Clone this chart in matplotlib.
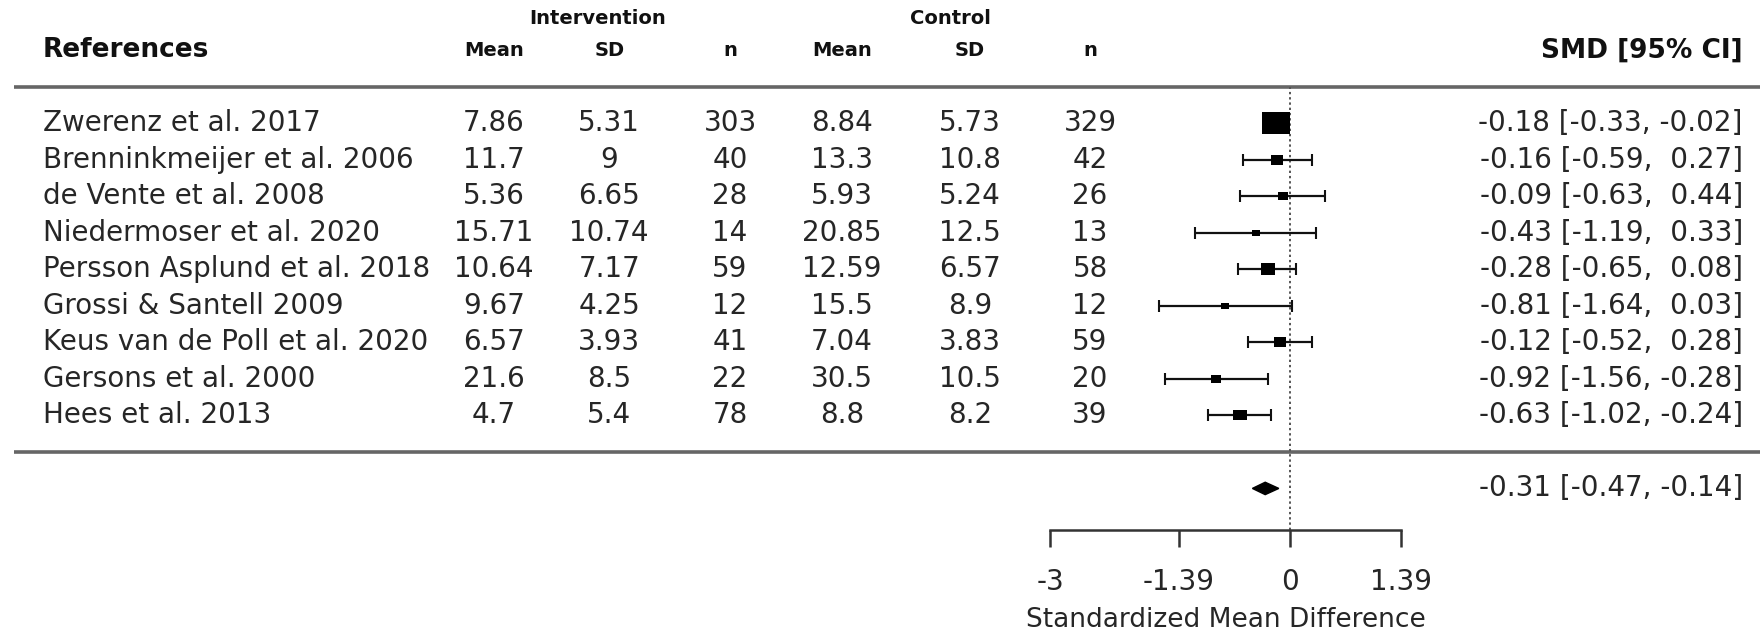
import matplotlib.pyplot as plt
import numpy as np
from matplotlib.patches import Polygon

# study table
studies = ["Zwerenz et al. 2017", "Brenninkmeijer et al. 2006", "de Vente et al. 2008",
           "Niedermoser et al. 2020", "Persson Asplund et al. 2018", "Grossi & Santell 2009",
           "Keus van de Poll et al. 2020", "Gersons et al. 2000", "Hees et al. 2013"]
int_mean = ["7.86", "11.7", "5.36", "15.71", "10.64", "9.67", "6.57", "21.6", "4.7"]
int_sd = ["5.31", "9", "6.65", "10.74", "7.17", "4.25", "3.93", "8.5", "5.4"]
int_n = ["303", "40", "28", "14", "59", "12", "41", "22", "78"]
ctl_mean = ["8.84", "13.3", "5.93", "20.85", "12.59", "15.5", "7.04", "30.5", "8.8"]
ctl_sd = ["5.73", "10.8", "5.24", "12.5", "6.57", "8.9", "3.83", "10.5", "8.2"]
ctl_n = ["329", "42", "26", "13", "58", "12", "59", "20", "39"]
smd = [-0.18, -0.16, -0.09, -0.43, -0.28, -0.81, -0.12, -0.92, -0.63]
ci_lo = [-0.33, -0.59, -0.63, -1.19, -0.65, -1.64, -0.52, -1.56, -1.02]
ci_hi = [-0.02, 0.27, 0.44, 0.33, 0.08, 0.03, 0.28, -0.28, -0.24]
pooled = [-0.31, -0.47, -0.14]   # estimate, lower, upper
axis_ticks = [-3, -1.39, 0, 1.39]
axis_labels = ["-3", "-1.39", "0", "1.39"]

plt.rcParams['font.family'] = ['DejaVu Sans']
txt = '#262626'
fs = 20

fig = plt.figure(figsize=(17.6, 6.37), dpi=100)
ax = fig.add_axes([0, 0, 1, 1])
ax.set_xlim(-16.125, 5.875)
ax.set_ylim(-5.07, 12.38)

k = len(studies)
rows = np.arange(k, 0, -1)

# column x positions (in SMD units, like metafor does it)
col_x = [-9.95, -8.51, -7.0, -5.6, -4.0, -2.5]
lab_x = -15.59
right_x = 5.66

# header
ax.text(lab_x, k + 2, "References", fontsize=19, fontweight='bold', ha='left', va='center', color='#111')
for x, h in zip(col_x, ["Mean", "SD", "n", "Mean", "SD", "n"]):
    ax.text(x, k + 2, h, fontsize=14, fontweight='bold', ha='center', va='center', color='#111')
ax.text(-8.65, k + 2.86, "Intervention", fontsize=14, fontweight='bold', ha='center', va='center', color='#111')
ax.text(-4.24, k + 2.86, "Control", fontsize=14, fontweight='bold', ha='center', va='center', color='#111')
ax.text(right_x, k + 2, "SMD [95% CI]", fontsize=19, fontweight='bold', ha='right', va='center', color='#111')

# separator lines
ax.hlines([k + 1, 0], -15.95, 5.875, color='#666666', lw=2.6)

# reference line at 0
ax.vlines(0, -2.14, k + 1, color='#555555', lw=1.4, linestyles=(0, (1.2, 1.5)))

# rows
box = [(-1, -0.82), (1, -0.82), (1, 0.82), (-1, 0.82), (-1, -0.82)]
for i, y in enumerate(rows):
    ax.text(lab_x, y, studies[i], fontsize=fs, ha='left', va='center', color=txt)
    for x, v in zip(col_x, [int_mean[i], int_sd[i], int_n[i], ctl_mean[i], ctl_sd[i], ctl_n[i]]):
        ax.text(x, y, v, fontsize=fs, ha='center', va='center', color=txt)
    ax.plot([ci_lo[i], ci_hi[i]], [y, y], color='#111', lw=1.6, solid_capstyle='butt')
    ax.plot([ci_lo[i], ci_hi[i]], [y, y], ls='none', marker='|', ms=9, mew=1.5, color='#111')
    w_px = 7.6 / (ci_hi[i] - ci_lo[i]) + 3.5
    ax.plot(smd[i], y, ls='none', marker=box, ms=w_px * 0.72, color='black', mew=0)
    ax.text(right_x, y, f"{smd[i]:.2f} [{ci_lo[i]:.2f}, {ci_hi[i]:5.2f}]",
            fontsize=fs, ha='right', va='center', color=txt)

# pooled estimate
est, lo, hi = pooled
yd = -1
dh = 0.17
ax.add_patch(Polygon([(lo, yd), (est, yd + dh), (hi, yd), (est, yd - dh)], closed=True,
                     facecolor='black', edgecolor='black', lw=1))
ax.text(right_x, yd, f"{est:.2f} [{lo:.2f}, {hi:.2f}]", fontsize=fs, ha='right', va='center', color=txt)

# x axis
for s in ['left', 'right', 'top']:
    ax.spines[s].set_visible(False)
ax.spines['bottom'].set_position(('data', -2.14))
ax.spines['bottom'].set_bounds(axis_ticks[0], axis_ticks[-1])
ax.spines['bottom'].set_linewidth(1.8)
ax.spines['bottom'].set_color('#333333')
ax.set_yticks([])
ax.set_xticks(axis_ticks)
ax.set_xticklabels(axis_labels)
ax.tick_params(axis='x', direction='out', length=12, width=1.8, color='#333333',
               labelsize=fs, labelcolor=txt, pad=15)
ax.set_xlabel("Standardized Mean Difference", fontsize=19, color=txt)
ax.xaxis.set_label_coords(-0.805, -4.6, transform=ax.transData)
ax.xaxis.label.set_va('center')

fig.savefig("out.png", dpi=100)
